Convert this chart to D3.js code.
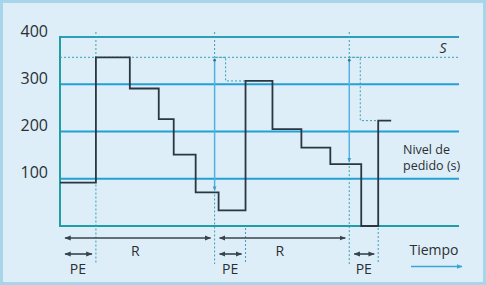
<!DOCTYPE html>
<html lang="es">
<head>
<meta charset="utf-8">
<title>Nivel de inventario - revisión periódica</title>
<script src="https://d3js.org/d3.v7.min.js"></script>
<style>
  body { margin: 0; background: #ffffff; }
  svg text { font-family: "Open Sans", "Noto Sans", sans-serif; fill: #2b2f33; }
</style>
</head>
<body>
<svg id="chart" width="486" height="285"></svg>
<script>
// data
const yTicks = [100, 200, 300, 400];
const sLevel = 357;
const stepTimes = [0, 36, 70, 99, 114, 136, 159, 186, 213, 242, 271, 302, 319, 332];
const stepLevels = [92, 357, 291, 226, 151, 71, 33, 307, 205, 166, 131, 0, 223];
const reviewTimes = [36, 155, 290];
const reviewLevels = [92, 71, 131];
const deliveryTimes = [36, 186, 319];
const deliveryLevels = [357, 307, 223];
const rPeriods = [[0, 155], [155, 290]];
const pePeriods = [[0, 36], [155, 186], [290, 319]];

var width = 486, height = 285;
var svg = d3.select("#chart");

// scales
var xScale = d3.scaleLinear().domain([0, 400]).range([60, 459]);
var yScale = d3.scaleLinear().domain([0, 400]).range([226, 37]);

// panel
svg.append("rect")
  .attr("x", 1.5).attr("y", 1.5)
  .attr("width", width - 3).attr("height", height - 3)
  .attr("fill", "#ddeef8")
  .attr("stroke", "#a7d5ea")
  .attr("stroke-width", 3);

var defs = svg.append("defs");
function marker(id, color, size) {
  defs.append("marker")
    .attr("id", id)
    .attr("viewBox", "0 0 10 10")
    .attr("refX", 9).attr("refY", 5)
    .attr("markerWidth", size).attr("markerHeight", size)
    .attr("orient", "auto-start-reverse")
    .append("path")
    .attr("d", "M0,1 L10,5 L0,9 Z")
    .attr("fill", color);
}
marker("arrDark", "#38444d", 4);
marker("arrBlue", "#3aa6d8", 4);
marker("arrLight", "#3f9cc8", 3);

// grid lines
svg.append("g").selectAll("line")
  .data(yTicks)
  .enter().append("line")
    .attr("x1", xScale(0)).attr("x2", xScale(400))
    .attr("y1", d => yScale(d)).attr("y2", d => yScale(d))
    .attr("stroke", d => d == 400 ? "#2b9fb8" : "#23a0d4")
    .attr("stroke-width", 2);

// bottom and left axis lines
svg.append("line")
  .attr("x1", xScale(0)).attr("x2", xScale(400))
  .attr("y1", yScale(0)).attr("y2", yScale(0))
  .attr("stroke", "#1f9ea6").attr("stroke-width", 2.2);
svg.append("line")
  .attr("x1", xScale(0)).attr("x2", xScale(0))
  .attr("y1", yScale(400) - 1).attr("y2", yScale(0) + 1)
  .attr("stroke", "#1f9ea6").attr("stroke-width", 2);

// y axis labels
var yAxis = svg.append("g")
  .attr("transform", "translate(" + xScale(0) + ",0)")
  .call(d3.axisLeft(yScale).tickValues(yTicks).tickSize(0).tickPadding(12));
yAxis.select(".domain").remove();
yAxis.selectAll("text")
  .attr("dy", "-0.05em")
  .style("font-size", "16px")
  .style("font-family", "'Open Sans', 'Noto Sans', sans-serif")
  .attr("fill", "#2b2f33");

var dotted = "#3a9fb6";

// S level dotted line
svg.append("line")
  .attr("x1", xScale(0)).attr("x2", xScale(400))
  .attr("y1", yScale(sLevel)).attr("y2", yScale(sLevel))
  .attr("stroke", dotted).attr("stroke-width", 1)
  .attr("stroke-dasharray", "2,2");

svg.append("text")
  .attr("x", 443).attr("y", 53)
  .attr("text-anchor", "middle")
  .style("font-size", "14px")
  .style("font-style", "italic")
  .text("S");

// review time verticals: dotted top and bottom
reviewTimes.forEach(function(t, i) {
  var x = xScale(t);
  svg.append("line")
    .attr("x1", x).attr("x2", x)
    .attr("y1", 32).attr("y2", yScale(sLevel))
    .attr("stroke", dotted).attr("stroke-dasharray", "2,2");
  svg.append("line")
    .attr("x1", x).attr("x2", x)
    .attr("y1", yScale(reviewLevels[i]) + 2).attr("y2", 264)
    .attr("stroke", dotted).attr("stroke-dasharray", "2,2");
});

// delivery verticals (dotted below axis)
deliveryTimes.slice(1).forEach(function(t) {
  svg.append("line")
    .attr("x1", xScale(t)).attr("x2", xScale(t))
    .attr("y1", yScale(0) + 2).attr("y2", 264)
    .attr("stroke", dotted).attr("stroke-dasharray", "2,2");
});

// order quantity arrows (S minus level at review)
reviewTimes.slice(1).forEach(function(t, i) {
  var x = xScale(t);
  svg.append("line")
    .attr("x1", x).attr("x2", x)
    .attr("y1", yScale(sLevel) + 1).attr("y2", yScale(reviewLevels[i + 1]) - 2)
    .attr("stroke", "#4fb2e4").attr("stroke-width", 1.5)
    .attr("marker-end", "url(#arrLight)");
  svg.append("circle")
    .attr("cx", x).attr("cy", yScale(sLevel) + 3)
    .attr("r", 1.3)
    .attr("fill", "#2f6f8a");
});

// dotted connectors from review to delivery
reviewTimes.slice(1).forEach(function(t, i) {
  var x0 = xScale(t), x1 = x0 + 11, x2 = xScale(deliveryTimes[i + 1]);
  var y0 = yScale(sLevel), y1 = yScale(deliveryLevels[i + 1]);
  svg.append("path")
    .attr("d", "M" + x0 + "," + y0 + "H" + x1 + "V" + y1 + "H" + x2)
    .attr("fill", "none")
    .attr("stroke", dotted).attr("stroke-width", 1)
    .attr("stroke-dasharray", "2,2");
});

// inventory step line
var stepData = stepLevels.map((v, i) => ({ t: stepTimes[i], v: v }));
stepData.push({ t: stepTimes[stepTimes.length - 1], v: stepLevels[stepLevels.length - 1] });
var line = d3.line()
  .x(d => xScale(d.t))
  .y(d => yScale(d.v))
  .curve(d3.curveStepAfter);
svg.append("path")
  .datum(stepData)
  .attr("d", line)
  .attr("fill", "none")
  .attr("stroke", "#2a3640")
  .attr("stroke-width", 1.8);

// period arrows
function periodArrow(p, y) {
  svg.append("line")
    .attr("x1", xScale(p[0]) + 5).attr("x2", xScale(p[1]) - 4)
    .attr("y1", y).attr("y2", y)
    .attr("stroke", "#38444d").attr("stroke-width", 1.6)
    .attr("marker-start", "url(#arrDark)")
    .attr("marker-end", "url(#arrDark)");
}
rPeriods.forEach(function(p) {
  periodArrow(p, 238);
  svg.append("text")
    .attr("x", (xScale(p[0]) + xScale(p[1])) / 2 - 2)
    .attr("y", 256)
    .attr("text-anchor", "middle")
    .style("font-size", "14px")
    .text("R");
});
pePeriods.forEach(function(p) {
  periodArrow(p, 254);
  svg.append("text")
    .attr("x", (xScale(p[0]) + xScale(p[1])) / 2)
    .attr("y", 274)
    .attr("text-anchor", "middle")
    .style("font-size", "14px")
    .text("PE");
});

// labels at right
var nivel = svg.append("text")
  .attr("x", 403).attr("y", 154)
  .style("font-size", "12.5px");
nivel.append("tspan").attr("x", 403).text("Nivel de");
nivel.append("tspan").attr("x", 403).attr("dy", 16).text("pedido (s)");

svg.append("text")
  .attr("x", 434).attr("y", 255)
  .attr("text-anchor", "middle")
  .style("font-size", "14px")
  .text("Tiempo");
svg.append("line")
  .attr("x1", 411).attr("x2", 462)
  .attr("y1", 266.5).attr("y2", 266.5)
  .attr("stroke", "#3aa6d8").attr("stroke-width", 1.5)
  .attr("marker-end", "url(#arrBlue)");
</script>
</body>
</html>
